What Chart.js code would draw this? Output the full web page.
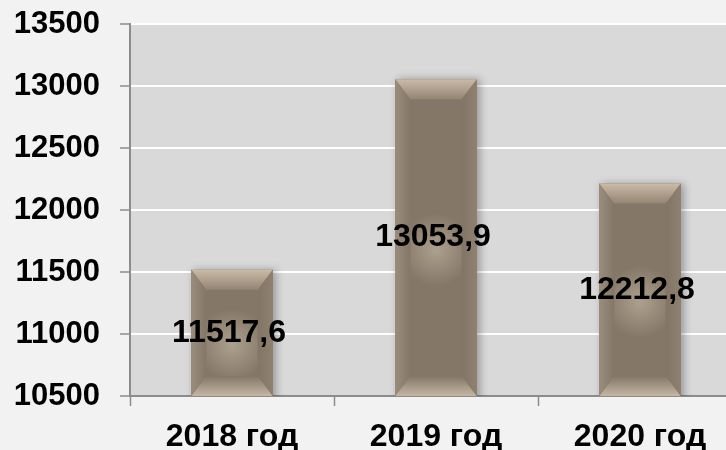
<!DOCTYPE html>
<html>
<head>
<meta charset="utf-8">
<script src="https://cdn.jsdelivr.net/npm/chart.js@4"></script>
<style>
  html, body { margin: 0; padding: 0; background: #f2f2f2; overflow: hidden; }
  #wrap { width: 726px; height: 450px; overflow: hidden; }
  #box { width: 750px; height: 450px; }
</style>
</head>
<body>
<div id="wrap"><div id="box"><canvas id="chart"></canvas></div></div>
<script>
const years = ["2018 год", "2019 год", "2020 год"];
const amounts = [11517.6, 13053.9, 12212.8];
const yMin = 10500;
const yMax = 13500;
const yStep = 500;

const FONT = "'Liberation Sans', Arial, sans-serif";

// grey plot area behind the bars
const plotBg = {
  id: "plotBg",
  beforeDraw(chart) {
    const { ctx, chartArea: a } = chart;
    ctx.save();
    ctx.fillStyle = "#d9d9d9";
    ctx.fillRect(a.left, a.top, a.right - a.left, a.bottom - a.top);
    ctx.restore();
  }
};

// soft shadow under the bars
const barShadow = {
  id: "barShadow",
  beforeDatasetsDraw(chart) {
    const ctx = chart.ctx;
    ctx.save();
    ctx.shadowColor = "rgba(0,0,0,0.3)";
    ctx.shadowBlur = 8;
    ctx.shadowOffsetX = 3;
    ctx.shadowOffsetY = 0;
  },
  afterDatasetsDraw(chart) {
    chart.ctx.restore();
  }
};

// bevel look + value labels
const bevel = {
  id: "bevel",
  afterDatasetsDraw(chart) {
    const ctx = chart.ctx;
    const meta = chart.getDatasetMeta(0);
    const bottom = chart.chartArea.bottom;
    meta.data.forEach((bar, i) => {
      const l = bar.x - bar.width / 2, r = bar.x + bar.width / 2;
      const t = bar.y, b = Math.min(bar.base, bottom);
      const bx = 15, by = 20;
      ctx.save();
      // body glow
      const cy = (t + b) / 2 + 12;
      const g = ctx.createRadialGradient(bar.x, cy, 2, bar.x, cy, 36);
      g.addColorStop(0, "rgba(215,205,185,0.45)");
      g.addColorStop(1, "rgba(215,205,185,0)");
      ctx.fillStyle = g;
      ctx.fillRect(l + bx, t + by, r - l - 2 * bx, b - t - 2 * by);
      // top bevel
      let gt = ctx.createLinearGradient(0, t, 0, t + by);
      gt.addColorStop(0, "#c9bba6");
      gt.addColorStop(1, "#938573");
      ctx.fillStyle = gt;
      ctx.beginPath();
      ctx.moveTo(l, t); ctx.lineTo(r, t); ctx.lineTo(r - bx, t + by); ctx.lineTo(l + bx, t + by);
      ctx.closePath(); ctx.fill();
      // bottom bevel
      let gb = ctx.createLinearGradient(0, b - by, 0, b);
      gb.addColorStop(0, "#847666");
      gb.addColorStop(1, "#c4b7a2");
      ctx.fillStyle = gb;
      ctx.beginPath();
      ctx.moveTo(l, b); ctx.lineTo(r, b); ctx.lineTo(r - bx, b - by); ctx.lineTo(l + bx, b - by);
      ctx.closePath(); ctx.fill();
      // left bevel
      let gl = ctx.createLinearGradient(l, 0, l + bx, 0);
      gl.addColorStop(0, "#9a8d7c");
      gl.addColorStop(1, "#857767");
      ctx.fillStyle = gl;
      ctx.beginPath();
      ctx.moveTo(l, t); ctx.lineTo(l + bx, t + by); ctx.lineTo(l + bx, b - by); ctx.lineTo(l, b);
      ctx.closePath(); ctx.fill();
      // right bevel
      let gr = ctx.createLinearGradient(r - bx, 0, r, 0);
      gr.addColorStop(0, "#837565");
      gr.addColorStop(1, "#8f8170");
      ctx.fillStyle = gr;
      ctx.beginPath();
      ctx.moveTo(r, t); ctx.lineTo(r - bx, t + by); ctx.lineTo(r - bx, b - by); ctx.lineTo(r, b);
      ctx.closePath(); ctx.fill();
      ctx.restore();

      // value label
      ctx.save();
      ctx.font = "bold 32px " + FONT;
      ctx.fillStyle = "#000";
      ctx.textAlign = "center";
      ctx.textBaseline = "middle";
      const txt = amounts[i].toFixed(1).replace(".", ",");
      ctx.fillText(txt, bar.x - 3, (t + b) / 2);
      ctx.restore();
    });
  }
};

new Chart(document.getElementById("chart"), {
  type: "bar",
  data: {
    labels: years,
    datasets: [{
      data: amounts,
      backgroundColor: "#857767",
      borderWidth: 0,
      barPercentage: 0.4,
      categoryPercentage: 1
    }]
  },
  options: {
    responsive: true,
    maintainAspectRatio: false,
    animation: false,
    layout: { padding: { top: 24, right: 8, left: 0, bottom: 0 } },
    plugins: {
      legend: { display: false },
      tooltip: { enabled: false }
    },
    scales: {
      y: {
        min: yMin,
        max: yMax,
        afterFit: s => { s.width = 130; s.paddingTop = 0; s.paddingBottom = 0; },
        ticks: {
          stepSize: yStep,
          color: "#000",
          padding: 20,
          font: { family: FONT, size: 31, weight: "bold" },
          callback: v => String(v)
        },
        grid: {
          color: "#ffffff",
          lineWidth: 2,
          tickColor: "#8c8c8c",
          tickWidth: 1.5,
          tickLength: 10
        },
        border: { color: "#8c8c8c", width: 2 }
      },
      x: {
        afterFit: s => { s.height = 54; },
        ticks: {
          color: "#000",
          padding: 12,
          font: { family: FONT, size: 32, weight: "bold" }
        },
        grid: {
          drawOnChartArea: false,
          tickColor: "#8c8c8c",
          tickWidth: 1.5,
          tickLength: 10
        },
        border: { color: "#8c8c8c", width: 2 }
      }
    }
  },
  plugins: [plotBg, barShadow, bevel]
});
</script>
</body>
</html>
